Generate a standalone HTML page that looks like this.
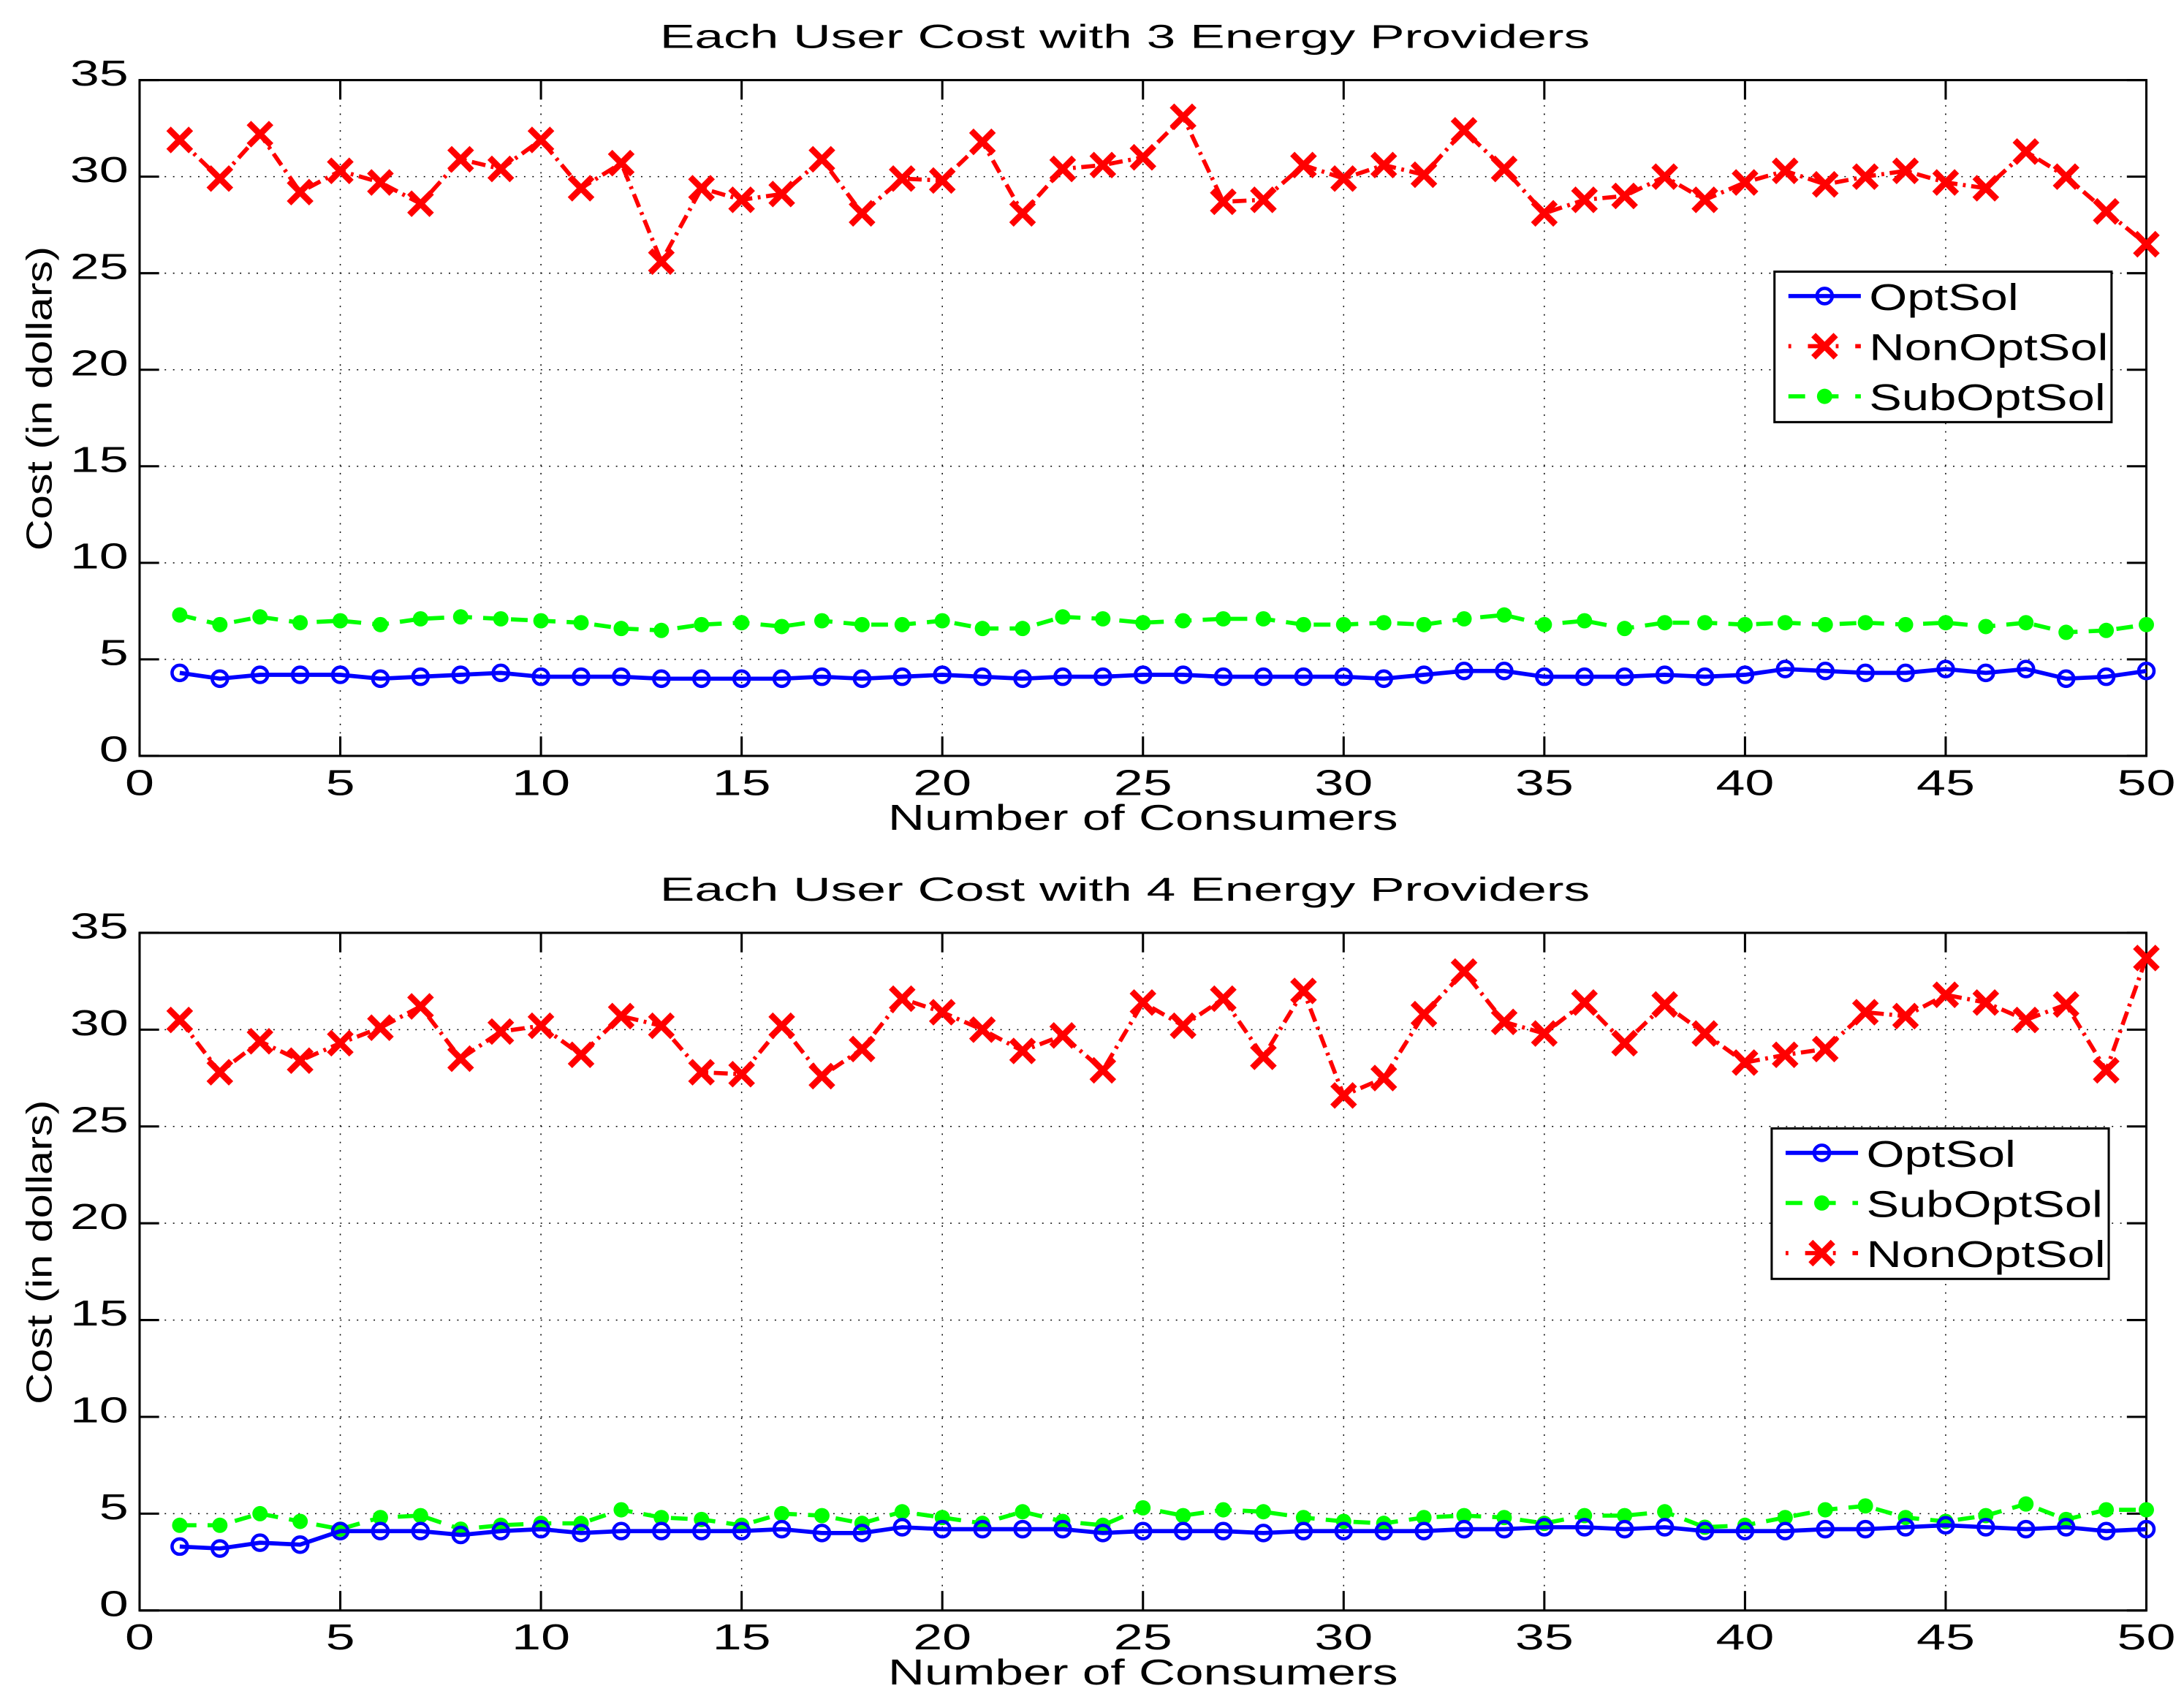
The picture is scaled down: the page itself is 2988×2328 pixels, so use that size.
<!DOCTYPE html>
<html><head><meta charset="utf-8"><style>
html,body{margin:0;padding:0;background:#fff;}
svg{display:block;}
text{font-family:"Liberation Sans",sans-serif;fill:#000;}
</style></head><body>
<svg id="fig" width="2988" height="2328" viewBox="0 0 1568 1221.7" xmlns="http://www.w3.org/2000/svg"></svg>
<script>
const xTicks=[0,5,10,15,20,25,30,35,40,45,50];
const yTicks=[0,5,10,15,20,25,30,35];
const consumers=Array.from({length:50},(_,i)=>i+1);
const top_opt=[4.3,4.0,4.2,4.2,4.2,4.0,4.1,4.2,4.3,4.1,4.1,4.1,4.0,4.0,4.0,4.0,4.1,4.0,4.1,4.2,4.1,4.0,4.1,4.1,4.2,4.2,4.1,4.1,4.1,4.1,4.0,4.2,4.4,4.4,4.1,4.1,4.1,4.2,4.1,4.2,4.5,4.4,4.3,4.3,4.5,4.3,4.5,4.0,4.1,4.4];
const top_non=[31.9,29.9,32.2,29.2,30.3,29.7,28.6,30.9,30.4,31.9,29.4,30.7,25.6,29.4,28.8,29.1,30.9,28.1,29.9,29.8,31.8,28.1,30.4,30.6,31.0,33.1,28.7,28.8,30.6,29.9,30.6,30.1,32.4,30.4,28.1,28.8,29.0,30.0,28.8,29.7,30.3,29.6,30.0,30.3,29.7,29.4,31.3,30.0,28.2,26.5];
const top_sub=[7.3,6.8,7.2,6.9,7.0,6.8,7.1,7.2,7.1,7.0,6.9,6.6,6.5,6.8,6.9,6.7,7.0,6.8,6.8,7.0,6.6,6.6,7.2,7.1,6.9,7.0,7.1,7.1,6.8,6.8,6.9,6.8,7.1,7.3,6.8,7.0,6.6,6.9,6.9,6.8,6.9,6.8,6.9,6.8,6.9,6.7,6.9,6.4,6.5,6.8];
const bot_opt=[3.3,3.2,3.5,3.4,4.1,4.1,4.1,3.9,4.1,4.2,4.0,4.1,4.1,4.1,4.1,4.2,4.0,4.0,4.3,4.2,4.2,4.2,4.2,4.0,4.1,4.1,4.1,4.0,4.1,4.1,4.1,4.1,4.2,4.2,4.3,4.3,4.2,4.3,4.1,4.1,4.1,4.2,4.2,4.3,4.4,4.3,4.2,4.3,4.1,4.2];
const bot_non=[30.5,27.8,29.4,28.4,29.3,30.1,31.2,28.5,29.9,30.2,28.7,30.7,30.2,27.8,27.7,30.2,27.6,29.0,31.6,30.9,30.0,28.9,29.7,27.9,31.4,30.2,31.6,28.6,32.0,26.6,27.5,30.8,33.0,30.4,29.8,31.4,29.3,31.3,29.8,28.3,28.7,29.0,30.9,30.7,31.8,31.4,30.5,31.3,27.9,33.7];
const bot_sub=[4.4,4.4,5.0,4.6,4.2,4.8,4.9,4.2,4.4,4.5,4.5,5.2,4.8,4.7,4.4,5.0,4.9,4.5,5.1,4.8,4.5,5.1,4.6,4.4,5.3,4.9,5.2,5.1,4.8,4.6,4.5,4.8,4.9,4.8,4.5,4.9,4.9,5.1,4.3,4.4,4.8,5.2,5.4,4.8,4.6,4.9,5.5,4.7,5.2,5.2];

const NS="http://www.w3.org/2000/svg";
const svg=document.getElementById('fig');
function mk(tag,attrs,parent){const e=document.createElementNS(NS,tag);for(const k in attrs)e.setAttribute(k,attrs[k]);(parent||svg).appendChild(e);return e;}
function txt(parent,x,y,s,size,sx,anchor){const t=mk('text',{x:0,y:0,'text-anchor':anchor,'font-size':size,transform:`translate(${x},${y}) scale(${sx},1)`},parent);t.textContent=s;return t;}

function panel(cfg){
  const L=100.2,R=1541,T=cfg.top,B=cfg.bottom;
  const xs=v=>L+(v-0)/50*(R-L);
  const ys=v=>B-(v/35)*(B-T);
  const g=mk('g',{});
  
  
  xTicks.forEach(t=>{if(t>0&&t<50){const l=mk('line',{x1:xs(t),x2:xs(t),y1:T,y2:B,stroke:'#000','stroke-width':0.8,'stroke-dasharray':'1 5'},g);
    }});
  yTicks.forEach(t=>{if(t>0&&t<35){const l=mk('line',{x1:L,x2:R,y1:ys(t),y2:ys(t),stroke:'#000','stroke-width':0.8,'stroke-dasharray':'1 5'},g);
    }});
  const box=mk('rect',{x:L,y:T,width:R-L,height:B-T,fill:'none',stroke:'#000','stroke-width':1.6},g);
  
  xTicks.forEach(t=>{
    mk('line',{x1:xs(t),x2:xs(t),y1:B,y2:B-14,stroke:'#000','stroke-width':1.6},g);
    mk('line',{x1:xs(t),x2:xs(t),y1:T,y2:T+14,stroke:'#000','stroke-width':1.6},g);
    const tx=txt(g,xs(t),B+28,String(t),26,1.45,'middle');
    
  });
  yTicks.forEach(t=>{
    mk('line',{x1:L,x2:L+14,y1:ys(t),y2:ys(t),stroke:'#000','stroke-width':1.6},g);
    mk('line',{x1:R,x2:R-14,y1:ys(t),y2:ys(t),stroke:'#000','stroke-width':1.6},g);
    const ty=txt(g,L-8,ys(t)+4,String(t),26,1.45,'end');
    
  });
  const title=txt(g,(L+R)/2-13,T-23,cfg.title,24,1.56,'middle');
  
  const xl=txt(g,(L+R)/2,B+53,'Number of Consumers',26,1.4,'middle');
  
  const yl=mk('text',{x:0,y:0,'text-anchor':'middle','font-size':26,transform:`translate(37,${(T+B)/2-14}) rotate(-90) scale(1.2,1)`},g);yl.textContent='Cost (in dollars)';
  

  function series(vals,color,dash,marker,name){
    const sg=mk('g',{},g);
    
    const pts=consumers.map((c,i)=>xs(c)+','+ys(vals[i])).join(' ');
    mk('polyline',{points:pts,fill:'none',stroke:color,'stroke-width':3,'stroke-dasharray':dash},sg);
    consumers.forEach((c,i)=>{const m=drawMarker(sg,marker,xs(c),ys(vals[i]),color);
      });
  }
  cfg.series.forEach(s=>series(s.vals,s.color,s.dash,s.marker,s.name));
  const lg=mk('g',{},g);
  
  mk('rect',{x:cfg.lx,y:cfg.ly,width:242,height:108,fill:'#fff',stroke:'#000','stroke-width':1.6},lg);
  cfg.legend.forEach((s,i)=>{
    const yy=cfg.ly+17.5+i*36;
    const e=mk('g',{},lg);
    
    mk('line',{x1:cfg.lx+10,x2:cfg.lx+62,y1:yy,y2:yy,stroke:s.color,'stroke-width':3,'stroke-dasharray':s.ldash},e);
    drawMarker(e,s.marker,cfg.lx+36,yy,s.color);
    txt(e,cfg.lx+68,yy+10,s.label,27,1.3,'start');
  });
}
function drawMarker(parent,type,x,y,c){
  if(type==='o') return mk('circle',{cx:x,cy:y,r:5.5,fill:'none',stroke:c,'stroke-width':2.4},parent);
  if(type==='x'){return mk('path',{d:`M${x-8} ${y-8}L${x+8} ${y+8}M${x+8} ${y-8}L${x-8} ${y+8}`,stroke:c,'stroke-width':4.5},parent);}
  return mk('circle',{cx:x,cy:y,r:5.5,fill:c},parent);
}
const S=(vals,color,dash,marker,name)=>({vals,color,dash,marker,name});
panel({name:'top-chart',top:57.5,bottom:542.6,title:'Each User Cost with 3 Energy Providers',lx:1274,ly:195,
  series:[S(top_sub,'#00ff00','12 8','*','series-subopt'),S(top_opt,'#0000ff','none','o','series-opt'),S(top_non,'#ff0000','10 4 2 4','x','series-nonopt')],
  legend:[{label:'OptSol',color:'#0000ff',ldash:'none',marker:'o'},{label:'NonOptSol',color:'#ff0000',ldash:'2 12 12 8',marker:'x'},{label:'SubOptSol',color:'#00ff00',ldash:'12 12',marker:'*'}]});
panel({name:'bottom-chart',top:669.6,bottom:1156,title:'Each User Cost with 4 Energy Providers',lx:1272,ly:810,
  series:[S(bot_sub,'#00ff00','12 8','*','series-subopt'),S(bot_opt,'#0000ff','none','o','series-opt'),S(bot_non,'#ff0000','10 4 2 4','x','series-nonopt')],
  legend:[{label:'OptSol',color:'#0000ff',ldash:'none',marker:'o'},{label:'SubOptSol',color:'#00ff00',ldash:'12 12',marker:'*'},{label:'NonOptSol',color:'#ff0000',ldash:'2 12 12 8',marker:'x'}]});
</script>
</body></html>
